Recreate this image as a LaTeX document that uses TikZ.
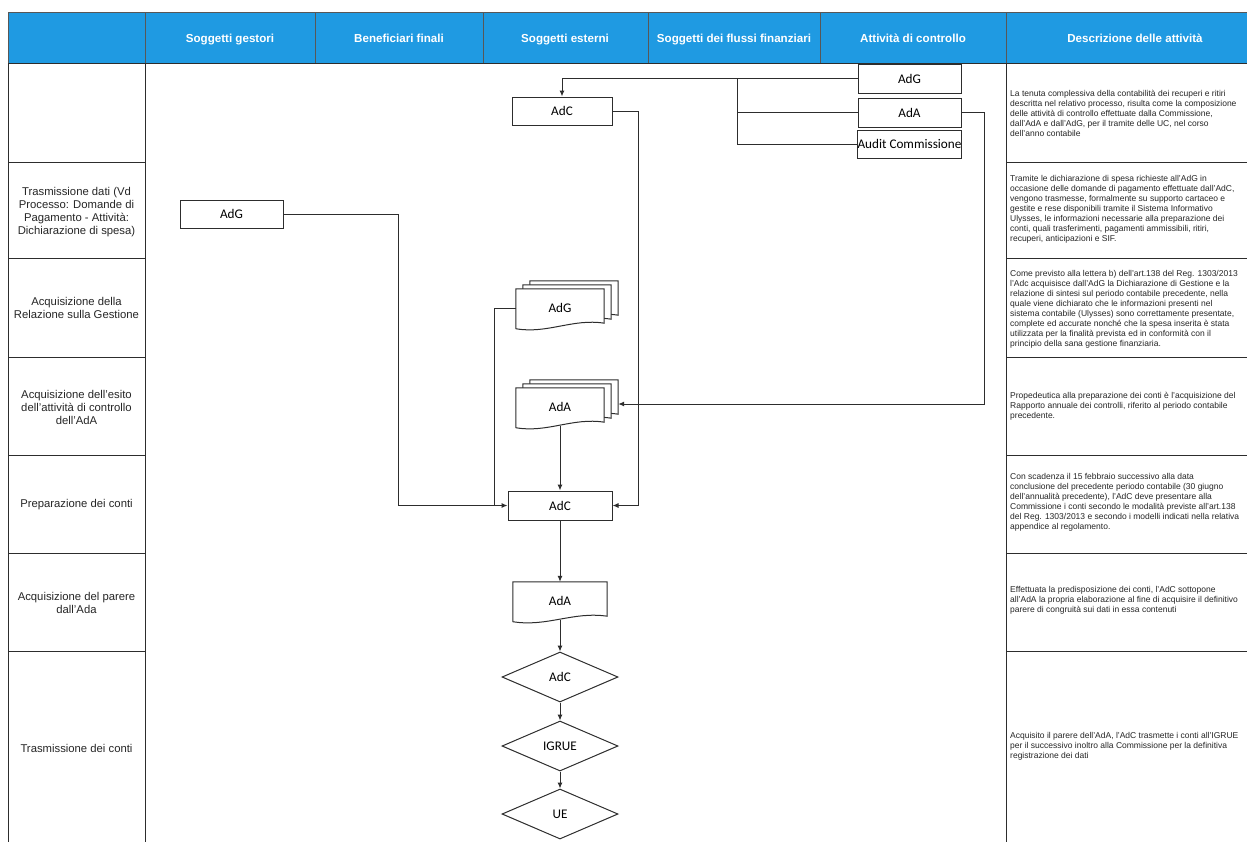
\documentclass[tikz,border=0pt]{standalone}
\usepackage{fontspec}
\setmainfont{Liberation Sans}
\newfontfamily\boxfont{Carlito}
\usetikzlibrary{arrows.meta,shapes.geometric,calc}
\definecolor{hdrblue}{RGB}{31,154,226}
\definecolor{ln}{RGB}{45,45,45}
\newcommand{\mydoc}[2]{%
  \draw[docline] (#1.north west) -- (#1.north east) -- ($(#1.south east)+(0,-4)$)
    .. controls ($(#1.south)+(13,-9)$) and ($(#1.south)+(-13,7)$) .. ($(#1.south west)+(0,1.5)$) -- cycle;
  \node[doctext] (#1t) at (#1.center) {#2};}
\tikzset{
  box/.style={draw=ln, line width=1pt, fill=white, minimum width=103pt, minimum height=29pt,
    inner sep=0pt, font=\boxfont\fontsize{13.2}{15}\selectfont},
  docnode/.style={minimum width=88pt, minimum height=38pt, inner sep=0pt},
  doctext/.style={inner sep=0pt, font=\boxfont\fontsize{13.2}{15}\selectfont},
  docline/.style={draw=ln, line width=1pt, fill=white},
  dia/.style={diamond, draw=ln, line width=1pt, fill=white, aspect=2.32, minimum width=116pt,
    minimum height=50pt, inner sep=0pt, font=\boxfont\fontsize{13.2}{15}\selectfont},
  conn/.style={draw=ln, line width=1pt},
  arr/.style={conn, -{Latex[length=6pt,width=5pt]}},
  hdr/.style={font=\fontsize{11.6}{13}\bfseries\selectfont, text=white, anchor=base},
  hdrline/.style={draw=ln!80, line width=0.8pt},
  lbl/.style={font=\fontsize{11.3}{13}\selectfont, align=center, text=black!85},
  desc/.style={font=\fontsize{8.5}{10}\selectfont, align=left, anchor=west, inner sep=0pt, text=black!85},
  grid/.style={draw=ln, line width=1pt}
}
\begin{document}
\begin{tikzpicture}[x=1pt,y=-1pt]
\useasboundingbox (0,0) rectangle (1247,841);
\clip (0,0) rectangle (1247,841);
\fill[white] (0,0) rectangle (1247,841);
% header
\fill[hdrblue] (8,12) rectangle (1270,63);
\draw[hdrline] (8,63) -- (8,12) -- (1270,12);
\draw[grid] (8,63) -- (1270,63);
\foreach \x in {145,315,483,648,820,1006} \draw[hdrline] (\x,12) -- (\x,63);
\node[hdr] (h1) at (230,42) {Soggetti gestori};
\node[hdr] (h2) at (399,42) {Beneficiari finali};
\node[hdr] (h3) at (565,42) {Soggetti esterni};
\node[hdr] (h4) at (734,42) {Soggetti dei flussi finanziari};
\node[hdr] (h5) at (913,42) {Attività di controllo};
\node[hdr] (h6) at (1135,42) {Descrizione delle attività};
% left column
\draw[grid] (8,63) -- (8,860);
\draw[grid] (145,63) -- (145,860);
\foreach \y in {162,258,357,455,553,651} \draw[grid] (8,\y) -- (145,\y);
% right column
\draw[grid] (1006,63) -- (1006,860);
\foreach \y in {162,258,357,455,553,651} \draw[grid] (1006,\y) -- (1270,\y);
% row labels
\node[lbl] (l2) at (76.5,212) {Trasmissione dati (Vd\\Processo: Domande di\\Pagamento - Attività:\\Dichiarazione di spesa)};
\node[lbl] (l3) at (76.5,308) {Acquisizione della\\Relazione sulla Gestione};
\node[lbl] (l4) at (76.5,407) {Acquisizione dell'esito\\dell'attività di controllo\\dell'AdA};
\node[lbl] (l5) at (76.5,505) {Preparazione dei conti};
\node[lbl] (l6) at (76.5,603) {Acquisizione del parere\\dall'Ada};
\node[lbl] (l7) at (76.5,748) {Trasmissione dei conti};
% descriptions
\node[desc] (d1) at (1010,113) {La tenuta complessiva della contabilità dei recuperi e ritiri\\descritta nel relativo processo, risulta come la composizione\\delle attività di controllo effettuate dalla Commissione,\\dall'AdA e dall'AdG, per il tramite delle UC, nel corso\\dell'anno contabile};
\node[desc] (d2) at (1010,209) {Tramite le dichiarazione di spesa richieste all'AdG in\\occasione delle domande di pagamento effettuate dall'AdC,\\vengono trasmesse, formalmente su supporto cartaceo e\\gestite e rese disponibili tramite il Sistema Informativo\\Ulysses, le informazioni necessarie alla preparazione dei\\conti, quali trasferimenti, pagamenti ammissibili, ritiri,\\recuperi, anticipazioni e SIF.};
\node[desc] (d3) at (1010,309) {Come previsto alla lettera b) dell'art.138 del Reg. 1303/2013\\l'Adc acquisisce dall'AdG la Dichiarazione di Gestione e la\\relazione di sintesi sul periodo contabile precedente, nella\\quale viene dichiarato che le informazioni presenti nel\\sistema contabile (Ulysses) sono correttamente presentate,\\complete ed accurate nonché che la spesa inserita è stata\\utilizzata per la finalità prevista ed in conformità con il\\principio della sana gestione finanziaria.};
\node[desc] (d4) at (1010,406) {Propedeutica alla preparazione dei conti è l'acquisizione del\\Rapporto annuale dei controlli, riferito al periodo contabile\\precedente.};
\node[desc] (d5) at (1010,502) {Con scadenza il 15 febbraio successivo alla data\\conclusione del precedente periodo contabile (30 giugno\\dell'annualità precedente), l'AdC deve presentare alla\\Commissione i conti secondo le modalità previste all'art.138\\del Reg. 1303/2013 e secondo i modelli indicati nella relativa\\appendice al regolamento.};
\node[desc] (d6) at (1010,600) {Effettuata la predisposizione dei conti, l'AdC sottopone\\all'AdA la propria elaborazione al fine di acquisire il definitivo\\parere di congruità sui dati in essa contenuti};
\node[desc] (d7) at (1010,746) {Acquisito il parere dell'AdA, l'AdC trasmette i conti all'IGRUE\\per il successivo inoltro alla Commissione per la definitiva\\registrazione dei dati};
% boxes
\node[box] (adgR) at (909.5,78.5) {AdG};
\node[box] (adaR) at (909.5,112.5) {AdA};
\node[box, minimum height=28pt] (audit) at (909.5,144) {Audit Commissione};
\node[box, minimum width=100pt, minimum height=28pt] (adc1) at (562,111) {AdC};
\node[box, minimum width=104pt] (adc2) at (560,505.5) {AdC};
\node[box, minimum height=28pt] (adgL) at (231.5,214) {AdG};
% document stacks
\node[docnode] (adgdoc3) at (574,300) {};
\node[docnode] (adgdoc2) at (567,304) {};
\node[docnode] (adgdoc) at (560,308) {};
\mydoc{adgdoc3}{}
\mydoc{adgdoc2}{}
\mydoc{adgdoc}{AdG}
\node[docnode] (adadoc3) at (574,399) {};
\node[docnode] (adadoc2) at (567,403) {};
\node[docnode] (adadoc) at (560,407) {};
\mydoc{adadoc3}{}
\mydoc{adadoc2}{}
\mydoc{adadoc}{AdA}
\node[docnode, minimum width=94pt] (adadoc1) at (560,601) {};
\mydoc{adadoc1}{AdA}
% diamonds
\node[dia] (dAdC) at (560,677) {AdC};
\node[dia] (dIG) at (560,746) {IGRUE};
\node[dia] (dUE) at (560,814) {UE};
% connectors
\coordinate (jt) at (737,0);
\coordinate (xr1) at (638,0);
\coordinate (xr2) at (984,0);
\coordinate (xl1) at (398,0);
\coordinate (xl2) at (494,0);
\draw[arr] (adgR.west) -| (adc1.north);
\draw[conn] (adgR.west -| jt) |- (adaR.west);
\draw[conn] (adgR.west -| jt) |- (audit.west);
\draw[arr] (adc1.east) -- (adc1.east -| xr1) |- (adc2.east);
\draw[arr] (adaR.east) -- (adaR.east -| xr2) |- ([yshift=-5pt]adadoc3.east);
\draw[arr] (adgL.east) -- (adgL.east -| xl1) |- (adc2.west);
\draw[conn] (adgdoc.west) -- (adgdoc.west -| xl2) -- (xl2 |- adc2.west);
\draw[arr] (adadoc.south) -- (adc2.north);
\draw[arr] (adc2.south) -- (adadoc1.north);
\draw[arr] (adadoc1.south) -- (dAdC.north);
\draw[arr] (dAdC.south) -- (dIG.north);
\draw[arr] (dIG.south) -- (dUE.north);
\end{tikzpicture}
\end{document}
